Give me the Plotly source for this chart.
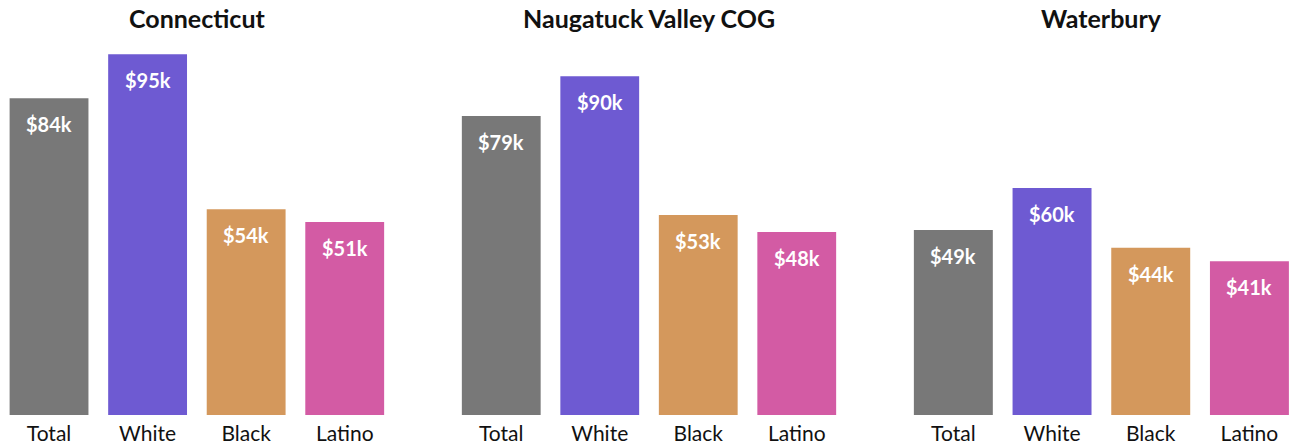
import plotly.graph_objects as go
from plotly.subplots import make_subplots

regions = ["Connecticut", "Naugatuck Valley COG", "Waterbury"]
groups = ["Total", "White", "Black", "Latino"]
# median household income, thousands of dollars
connecticut = [83.6, 95.2, 54.3, 50.9]
naugatuck = [78.9, 89.4, 52.8, 48.3]
waterbury = [48.8, 59.9, 44.1, 40.6]
labels_ct = ["$84k", "$95k", "$54k", "$51k"]
labels_nv = ["$79k", "$90k", "$53k", "$48k"]
labels_wb = ["$49k", "$60k", "$44k", "$41k"]

colors = ["#787878", "#6e5ad2", "#d4985c", "#d35ba4"]
FONT = "Source Sans Pro, Lato, Noto Sans, sans-serif"
W, H = 1289, 448
T, B = 40, 33
PH = H - T - B

fig = make_subplots(rows=1, cols=3)
series = [connecticut, naugatuck, waterbury]
labels = [labels_ct, labels_nv, labels_wb]
domains = [(0, 394), (452, 846), (904, 1289)]
ranges = [[-0.5 + 0.25 / 98.5, 3.5], [-0.5, 3.5], [-0.5, 3.5 - 9.75 / 98.5]]
title_x = [(0 + 394) / 2, (452 + 846) / 2, (904 + 1298) / 2]

for i, (vals, labs) in enumerate(zip(series, labels)):
    fig.add_trace(go.Bar(x=groups, y=vals, marker_color=colors, marker_line_width=0,
                         hoverinfo="skip", showlegend=False), row=1, col=i + 1)
    xa = "x" if i == 0 else f"x{i+1}"
    ya = "y" if i == 0 else f"y{i+1}"
    for g, v, t in zip(groups, vals, labs):
        fig.add_annotation(x=g, y=v, xref=xa, yref=ya, text=f"<b>{t}</b>", showarrow=False,
                           yanchor="middle", yshift=-26,
                           font=dict(family=FONT, size=20, color="white"))
    d0, d1 = domains[i]
    fig.update_xaxes(domain=[d0 / W, d1 / W], range=ranges[i], showgrid=False, zeroline=False,
                     showline=False, ticks="", ticklabelstandoff=4, fixedrange=True,
                     tickfont=dict(family=FONT, size=21, color="#111111"),
                     row=1, col=i + 1)
    fig.update_yaxes(range=[0, PH / 3.79], visible=False, fixedrange=True, row=1, col=i + 1)
    fig.add_annotation(x=title_x[i] / W, y=1 + (T - 18) / PH,
                       xref="paper", yref="paper", text=f"<b>{regions[i]}</b>", showarrow=False,
                       font=dict(family=FONT, size=25, color="#111111"),
                       xanchor="center", yanchor="middle")

fig.update_layout(width=W, height=H, margin=dict(l=0, r=0, t=T, b=B),
                  plot_bgcolor="white", paper_bgcolor="white", bargap=0.2,
                  font=dict(family=FONT))
fig.write_html("out.html", config={"displayModeBar": False},
               post_script="document.body.style.margin='0';")
